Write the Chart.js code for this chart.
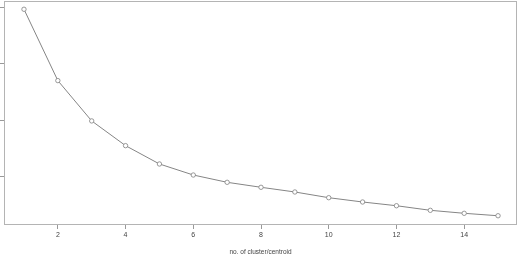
<!DOCTYPE html>
<html>
<head>
<meta charset="utf-8">
<script src="https://cdn.jsdelivr.net/npm/chart.js@4"></script>
<style>
  html, body { margin: 0; padding: 0; background: #fff; }
  canvas { display: block; }
</style>
</head>
<body>
<canvas id="elbow" width="518" height="256"></canvas>
<script>
    // number of clusters vs within-cluster sum of squares (axis labels are cropped in the source)
    const clusters = [1, 2, 3, 4, 5, 6, 7, 8, 9, 10, 11, 12, 13, 14, 15];
    const wss = [3.965, 2.704, 1.991, 1.554, 1.230, 1.035, 0.906, 0.818, 0.735, 0.634, 0.558, 0.492, 0.411, 0.358, 0.315];
    const xTicks = [2, 4, 6, 8, 10, 12, 14];
    const yTicks = [1, 2, 3, 4];

    // R-style frame round the plot area
    const boxPlugin = {
        id: 'box',
        afterDraw: function (chart) {
            const a = chart.chartArea;
            const ctx = chart.ctx;
            ctx.save();
            ctx.strokeStyle = '#b4b4b4';
            ctx.lineWidth = 1;
            ctx.strokeRect(a.left + 0.5, a.top + 0.5, a.right - a.left - 1, a.bottom - a.top);
            ctx.restore();
        }
    };

    const ctx = document.getElementById('elbow').getContext('2d');
    new Chart(ctx, {
        type: 'line',
        data: {
            datasets: [{
                data: clusters.map((c, i) => ({ x: c, y: wss[i] })),
                borderColor: '#858585',
                borderWidth: 1,
                pointRadius: 2.2,
                pointBorderWidth: 0.8,
                pointBorderColor: '#808080',
                pointBackgroundColor: '#fff',
                tension: 0,
                fill: false
            }]
        },
        options: {
            responsive: false,
            animation: false,
            layout: { autoPadding: false, padding: { top: 1, right: 1, left: 0, bottom: 0 } },
            plugins: {
                legend: { display: false },
                tooltip: { enabled: false }
            },
            scales: {
                x: {
                    type: 'linear',
                    min: 0.41,
                    max: 15.56,
                    afterBuildTicks: function (scale) {
                        scale.ticks = xTicks.map(v => ({ value: v }));
                    },
                    afterFit: function (scale) { scale.height = 32; },
                    border: { display: false },
                    grid: { drawOnChartArea: false, tickLength: 5, color: '#999' },
                    ticks: {
                        color: '#444',
                        padding: 2,
                        font: { family: 'Liberation Sans', size: 7 },
                        maxRotation: 0
                    },
                    title: {
                        display: true,
                        text: 'no. of cluster/centroid',
                        color: '#444',
                        font: { family: 'Liberation Sans', size: 6.5 },
                        padding: { top: 4, bottom: 0 }
                    }
                },
                y: {
                    min: 0.169,
                    max: 4.111,
                    afterBuildTicks: function (scale) {
                        scale.ticks = yTicks.map(v => ({ value: v }));
                    },
                    afterFit: function (scale) { scale.width = 4; },
                    border: { display: false },
                    grid: { drawOnChartArea: false, tickLength: 4, color: '#999' },
                    ticks: { display: false }
                }
            }
        },
        plugins: [boxPlugin]
    });
</script>
</body>
</html>
